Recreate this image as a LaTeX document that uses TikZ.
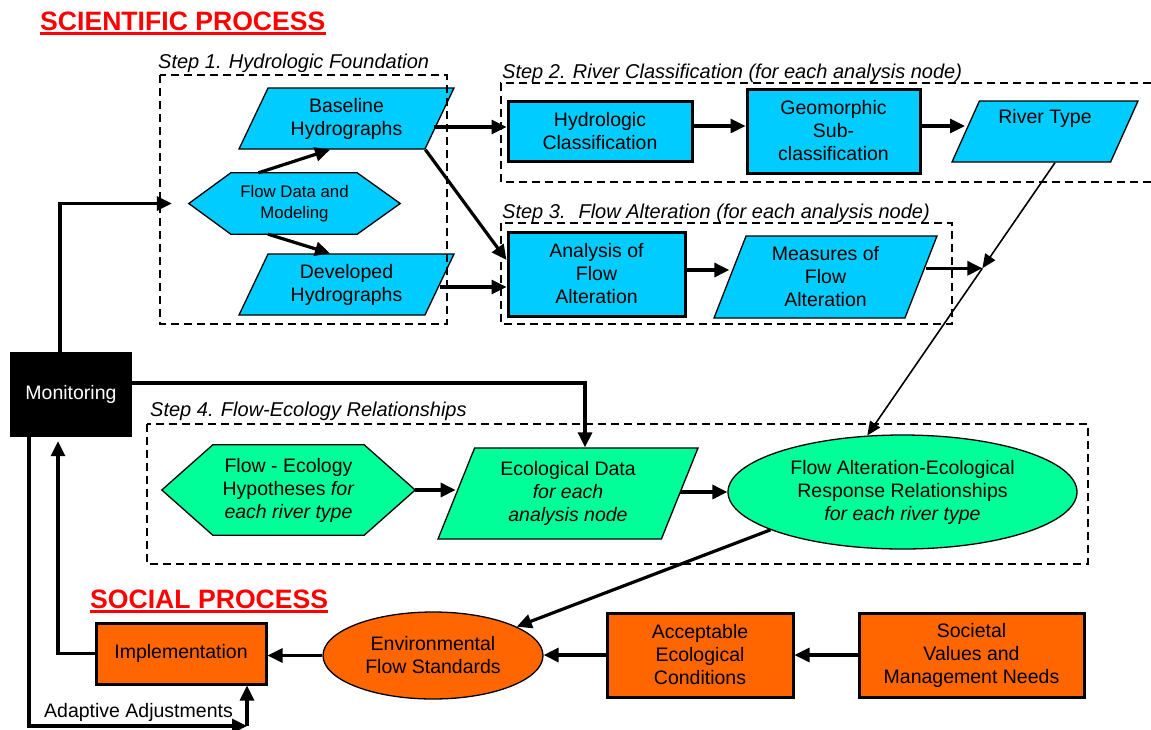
\documentclass[tikz,border=0pt]{standalone}
\usepackage{fontspec}
\setmainfont{Liberation Sans}
\usetikzlibrary{shapes.geometric,arrows.meta,calc,backgrounds}
\definecolor{cyanf}{HTML}{00CCFF}
\definecolor{greenf}{HTML}{00FF99}
\definecolor{orangef}{HTML}{FF6600}
\definecolor{titlered}{HTML}{FF0000}
\begin{document}
\begin{tikzpicture}[x=1pt,y=-1pt,
  lab/.style={font=\fontsize{19.5}{23}\selectfont, align=center, inner sep=0pt},
  thinline/.style={line width=1.3pt},
  pshape/.style={lab, draw, thinline, trapezium, trapezium stretches body=true},
  tbox/.style={lab, draw, line width=3pt, rectangle},
  dbox/.style={line width=1.4pt, dash pattern=on 8pt off 5pt},
  arr/.style={line width=3.2pt, -{Triangle[length=15pt,width=14pt]}},
  tarr/.style={line width=1.6pt, -{Triangle[length=14pt,width=12pt]}},
  steplab/.style={font=\fontsize{20}{23}\selectfont\itshape, inner sep=0pt, anchor=base west},
  ttl/.style={font=\fontsize{26.6}{30}\selectfont\bfseries, text=titlered, inner sep=0pt, anchor=base west},
]
\useasboundingbox (0,0) rectangle (1151,729);

% titles
\node[ttl] (sci) at (40,30) {SCIENTIFIC PROCESS};
\draw[titlered, line width=2.6pt] ([yshift=-3.5pt]sci.base west) -- ([yshift=-3.5pt]sci.base east);
\node[ttl] (soc) at (90,608) {SOCIAL PROCESS};
\draw[titlered, line width=2.6pt] ([yshift=-3.5pt]soc.base west) -- ([yshift=-3.5pt]soc.base east);

% step labels
\node[steplab] (l1) at (158,68) {Step 1. Hydrologic Foundation};
\node[steplab] (l2) at (502,78) {Step 2. River Classification (for each analysis node)};
\node[steplab] (l3) at (502,218) {Step 3.~ Flow Alteration (for each analysis node)};
\node[steplab] (l4) at (150,416) {Step 4. Flow-Ecology Relationships};

% step 1
\node[pshape, fill=cyanf, minimum width=215pt, minimum height=61pt,
  trapezium left angle=54.8, trapezium right angle=125.2] (base) at (346.5,118.5) {Baseline\\Hydrographs};
\node[pshape, fill=cyanf, minimum width=215pt, minimum height=61pt,
  trapezium left angle=54.8, trapezium right angle=125.2] (devd) at (346.5,284.5) {Developed\\Hydrographs};
\node[lab, font=\fontsize{16.8}{21}\selectfont, minimum width=211pt, minimum height=61pt] (fd) at (294.5,203.5) {Flow Data and\\Modeling};

% step 2
\node[tbox, fill=cyanf, minimum width=184pt, minimum height=60pt] (hc) at (600,131) {Hydrologic\\Classification};
\node[tbox, fill=cyanf, minimum width=173pt, minimum height=84pt] (geo) at (833.5,131) {Geomorphic\\Sub-\\classification};
\node[pshape, fill=cyanf, minimum width=186pt, minimum height=61pt,
  trapezium left angle=58.1, trapezium right angle=121.9] (rt) at (1045,131.5) {River Type\\\strut};

% step 3
\node[tbox, fill=cyanf, minimum width=177pt, minimum height=84pt] (ana) at (596.5,274) {Analysis of\\Flow\\Alteration};
\node[pshape, fill=cyanf, minimum width=223pt, minimum height=82pt,
  trapezium left angle=62.0, trapezium right angle=118.0] (meas) at (825.5,277) {Measures of\\Flow\\Alteration};

% monitoring
\node[lab, fill=black, text=white, minimum width=122pt, minimum height=85pt] (mon) at (71,394.5) {Monitoring};

% step 4
\node[lab, minimum width=253pt, minimum height=90pt] (hyp) at (288.5,490) {Flow - Ecology\\Hypotheses \textit{for}\\\textit{each river type}};
\node[pshape, fill=greenf, minimum width=260pt, minimum height=91pt,
  trapezium left angle=60.3, trapezium right angle=119.7] (eco) at (568,493.5) {Ecological Data\\\textit{for each}\\\textit{analysis node}};
\node[lab, draw, thinline, ellipse, fill=greenf, minimum width=349pt, minimum height=114pt] (faer) at (902.5,492) {Flow Alteration-Ecological\\Response Relationships\\\textit{for each river type}};

% social
\node[lab, draw, thinline, ellipse, fill=orangef, minimum width=220pt, minimum height=87pt] (efs) at (433,655.5) {Environmental\\Flow Standards};
\node[tbox, fill=orangef, minimum width=170pt, minimum height=61pt] (impl) at (181,653.5) {Implementation};
\node[tbox, fill=orangef, minimum width=186pt, minimum height=84pt] (acc) at (700,655) {Acceptable\\Ecological\\Conditions};
\node[tbox, fill=orangef, minimum width=225pt, minimum height=84pt] (socv) at (971.5,655) {Societal\\Values and\\Management Needs};
\node[lab, anchor=base west] (adtxt) at (44,717) {Adaptive Adjustments};

% hexagon outlines behind their texts
\begin{scope}[on background layer]
\draw[thinline, fill=cyanf] ([xshift=42pt]fd.north west) -- ([xshift=-43pt]fd.north east) -- (fd.east)
  -- ([xshift=-43pt]fd.south east) -- ([xshift=42pt]fd.south west) -- (fd.west) -- cycle;
\draw[thinline, fill=greenf] ([xshift=51pt]hyp.north west) -- ([xshift=-51pt]hyp.north east) -- (hyp.east)
  -- ([xshift=-51pt]hyp.south east) -- ([xshift=51pt]hyp.south west) -- (hyp.west) -- cycle;
\end{scope}

% dashed step boxes
\draw[dbox] (160,75) rectangle (447,324);
\draw[dbox] (1151,83) -- (501,83) -- (501,182) -- (1151,182);
\draw[dbox] (501,223) rectangle (952,324);
\draw[dbox] (147,424) rectangle (1088,564);

% connectors
\draw[arr] ([xshift=-36pt]fd.north) -- ([xshift=-16.5pt]base.south);
\draw[arr] ([xshift=-26.5pt]fd.south) -- ([xshift=-16.5pt]devd.north);
\coordinate (hcin) at ([yshift=4pt]hc.west);
\draw[arr] (base.east |- hcin) ++(-6,0) -- (hcin);
\coordinate (hcout) at ([yshift=5pt]hc.east);
\draw[arr] (hcout) -- (hcout -| geo.west);
\coordinate (geoout) at ([yshift=5pt]geo.east);
\draw[arr] (geoout) -- (geoout -| rt.west);
\draw[arr] (base.bottom right corner) -- ([yshift=14pt]ana.west);
\coordinate (anain) at ([yshift=-13pt]ana.west);
\draw[arr] (devd.east |- anain) -- (anain);
\coordinate (anaout) at ([yshift=4pt]ana.east);
\draw[arr] (anaout) -- (anaout -| meas.west);

\coordinate (rtb) at ([xshift=10pt]rt.south);
\coordinate (J) at ($(rtb)!0.387!(faer.122)$);
\draw[tarr] (rtb) -- (J);
\draw[tarr] (J) -- (faer.122);
\draw[arr] (meas.east |- J) ++(4,0) -- (J);

\coordinate (monout) at ([yshift=11.5pt]mon.east);
\draw[arr] (monout) -| ([xshift=17pt]eco.north);
\coordinate (s1in) at ([xshift=-17pt]fd.west);
\draw[arr] ([xshift=-11pt]mon.north) |- (s1in);

\draw[arr] (hyp.east) -- (hyp.east -| eco.west);
\draw[arr] (eco.east |- faer.west) -- (faer.west);
\draw[arr] (faer.196) -- (efs.19);
\draw[arr] (efs.west) -- (efs.west -| impl.east);
\draw[arr] (impl.west) -| ([xshift=-13pt,yshift=-4pt]mon.south);
\coordinate (adj) at (247,726);
\draw[arr] ([xshift=-42pt]mon.south) |- (adj);
\draw[arr] (adj) -- (adj |- impl.south);
\draw[arr] (acc.west) -- (acc.west -| efs.east);
\draw[arr] (socv.west) -- (socv.west -| acc.east);
\end{tikzpicture}
\end{document}
